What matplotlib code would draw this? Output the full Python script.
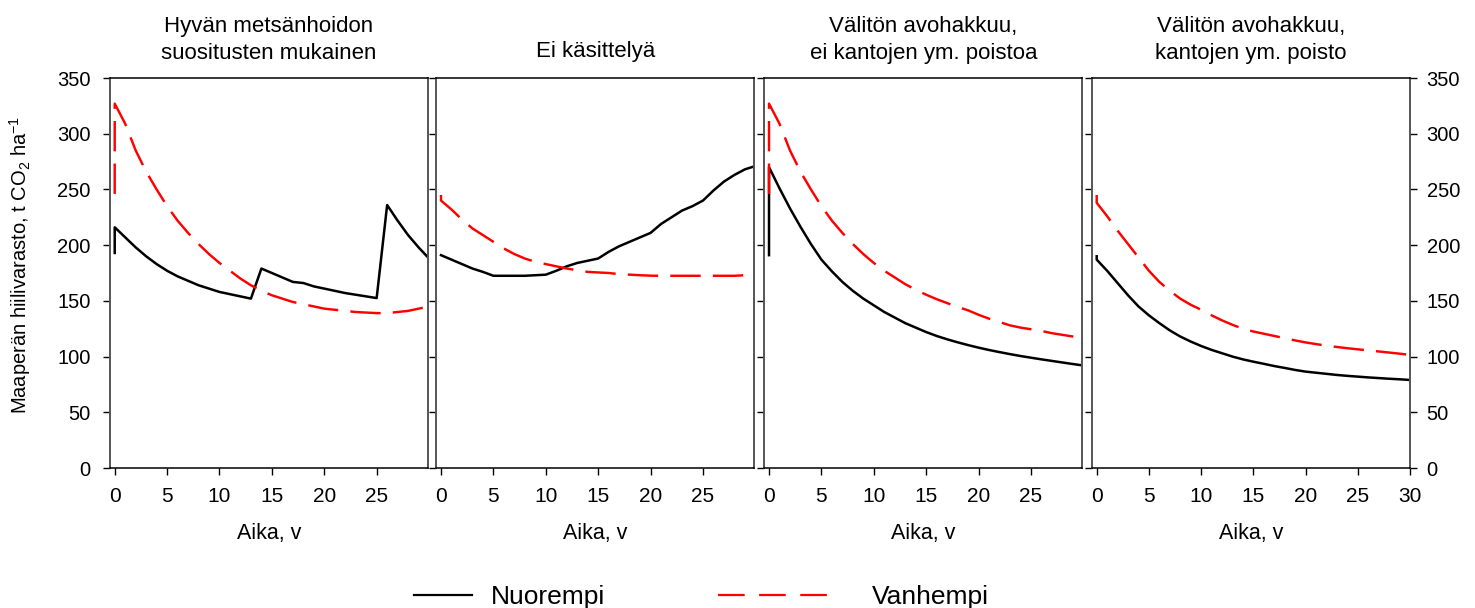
import matplotlib
matplotlib.use("Agg")
import matplotlib.pyplot as plt
from matplotlib.lines import Line2D

plt.rcParams["font.family"] = ["Liberation Sans", "DejaVu Sans"]
plt.rcParams["mathtext.fontset"] = "custom"
plt.rcParams["mathtext.rm"] = "Liberation Sans"
plt.rcParams["mathtext.it"] = "Liberation Sans:italic"

# ---- DATA ----
TITLES = [
    ["Hyvän metsänhoidon", "suositusten mukainen"],
    ["Ei käsittelyä"],
    ["Välitön avohakkuu,", "ei kantojen ym. poistoa"],
    ["Välitön avohakkuu,", "kantojen ym. poisto"],
]
YEARS = list(range(31))

# value at year 0 before the jump (drawn as a vertical step), None = no step
YOUNG_START = [193, None, 191, 190]
OLD_START = [246, 245, 246, 245]

young_1 = [216, 207, 198, 190, 183, 177, 172, 168, 164, 161, 158, 156, 154, 152,
           179, 175, 171, 167, 166, 163, 161, 159, 157, 155.5, 154, 152.5,
           236, 222, 209, 198, 188]
old_1 = [327, 309, 285, 266, 250, 235, 222, 211, 201, 192, 184, 177, 170, 164,
         159, 155, 152, 149, 147, 145, 143, 142, 141, 140, 139.5, 139, 139,
         140, 141, 143, 145]

young_2 = [191, 187, 183, 179, 176, 172.5, 172.5, 172.5, 172.5, 173, 173.5, 177,
           181, 184, 186, 188, 194, 199, 203, 207, 211, 219, 225, 231, 235, 240,
           249, 257, 263, 268, 271]
old_2 = [240, 232, 223, 215, 209, 203, 197, 192, 188, 185, 183, 181, 179, 177.5,
         176, 175.5, 175, 174, 173.5, 173, 172.6, 172.5, 172.5, 172.5, 172.5,
         172.5, 172.5, 172.5, 172.5, 173, 174]

young_3 = [270, 251, 233, 216.5, 201, 187, 176.5, 167, 159, 152, 146, 140, 135,
           130, 126, 122, 118.5, 115.5, 112.8, 110.3, 108, 105.9, 104, 102.2,
           100.5, 99, 97.5, 96.1, 94.7, 93.3, 92]
old_3 = [327, 309, 285, 266, 250, 235, 222, 211, 201, 192, 184, 177, 171, 165,
         160, 155.5, 151.5, 148, 144.5, 141.5, 137.5, 134, 131, 128, 126, 124.5,
         123, 121, 119.5, 118, 116.5]

young_4 = [187, 177, 166, 155, 145, 137, 130, 123.5, 118, 113.5, 109.5, 106, 103,
           100, 97.5, 95.4, 93.5, 91.5, 89.8, 88, 86.5, 85.5, 84.5, 83.5, 82.7,
           82, 81.3, 80.7, 80.1, 79.6, 79]
old_4 = [238, 226, 213, 201, 189, 177, 167, 159, 152, 146.5, 142, 137, 132.5,
         128.5, 125, 122.5, 120.5, 118.5, 116.5, 114.5, 112.7, 111.2, 109.8,
         108.6, 107.5, 106.5, 105.5, 104.6, 103.6, 102.6, 101.5]

YOUNG = [young_1, young_2, young_3, young_4]
OLD = [old_1, old_2, old_3, old_4]

Y_TICKS = list(range(0, 351, 50))

# ---- STYLE ----
W, H = 1475, 608
YOUNG_COLOR = "black"
OLD_COLOR = "#ff0000"
OLD_DASH = (0, (12.5, 5))
PANEL_LEFT = [110, 436.3, 764.3, 1092]
PANEL_W = 318
PANEL_TOP, PANEL_BOTTOM = 78, 468


def with_start(start, values):
    if start is None:
        return YEARS, values
    return [0] + YEARS, [start] + values


fig = plt.figure(figsize=(W / 100, H / 100), dpi=100)

axes = []
for i in range(4):
    ax = fig.add_axes([PANEL_LEFT[i] / W, 1 - PANEL_BOTTOM / H,
                       PANEL_W / W, (PANEL_BOTTOM - PANEL_TOP) / H])
    axes.append(ax)

    xs, ys = with_start(YOUNG_START[i], YOUNG[i])
    ax.plot(xs, ys, color=YOUNG_COLOR, lw=1.8, zorder=2)
    xs, ys = with_start(OLD_START[i], OLD[i])
    ax.plot(xs, ys, color=OLD_COLOR, lw=1.75, linestyle=OLD_DASH, zorder=3)

    ax.set_ylim(0, 350)
    ax.set_yticks(Y_TICKS)
    if i < 3:
        ax.set_xlim(-0.45, 29.9)
        ax.set_xticks(range(0, 26, 5))
    else:
        ax.set_xlim(-0.45, 30)
        ax.set_xticks(range(0, 31, 5))

    ax.tick_params(axis="x", direction="out", length=5, width=1, pad=9,
                   labelsize=15)
    ax.tick_params(axis="y", direction="out", length=5, width=1, pad=9,
                   labelsize=14.5)
    if i == 0:
        ax.tick_params(axis="y", left=True, labelleft=True)
    elif i == 3:
        ax.tick_params(axis="y", left=True, right=True, labelleft=False,
                       labelright=True, pad=7)
    else:
        ax.tick_params(axis="y", labelleft=False)

    ax.set_xlabel("Aika, v", fontsize=15.5, labelpad=12)

    for side in ["top", "bottom"]:
        ax.spines[side].set_color("black")
        ax.spines[side].set_linewidth(1.1)
    for side in ["left", "right"]:
        ax.spines[side].set_color("#555555")
        ax.spines[side].set_linewidth(1.4)

    # titles, one text per line
    cx = (PANEL_LEFT[i] + PANEL_W / 2) / W
    lines = TITLES[i]
    baselines = [32, 59] if len(lines) == 2 else [57]
    for line, by in zip(lines, baselines):
        fig.text(cx, 1 - by / H, line, ha="center", va="baseline", fontsize=16)

fig.text(20 / W, 1 - 265 / H, "Maaperän hiilivarasto, t CO$_2$ ha$^{-1}$",
         rotation=90, ha="center", va="center", fontsize=14.5)

# ---- LEGEND ----
h_young = Line2D([], [], color=YOUNG_COLOR, lw=1.6)
h_old = Line2D([], [], color=OLD_COLOR, lw=1.6, linestyle=(0, (12, 6.5)))
fig.legend([h_young], ["Nuorempi"], loc="center left",
           bbox_to_anchor=(414 / W, 1 - 597 / H), frameon=False, fontsize=19,
           handlelength=2.2, handletextpad=0.7, borderpad=0, borderaxespad=0)
fig.legend([h_old], ["Vanhempi"], loc="center left",
           bbox_to_anchor=(718 / W, 1 - 597 / H), frameon=False, fontsize=19,
           handlelength=4.3, handletextpad=1.55, borderpad=0, borderaxespad=0)

fig.savefig("out.png", dpi=100)
